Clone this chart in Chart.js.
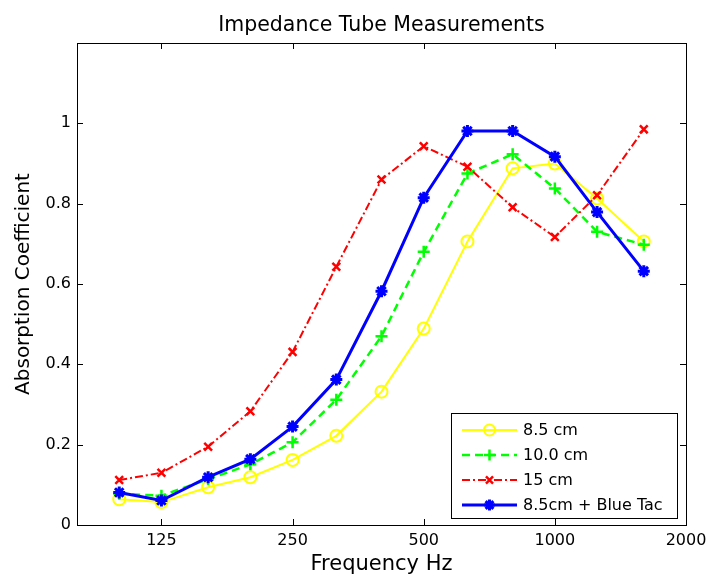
<!DOCTYPE html>
<html>
<head>
<meta charset="utf-8">
<title>Impedance Tube Measurements</title>
<script src="https://cdn.jsdelivr.net/npm/chart.js@4.4.1/dist/chart.umd.min.js"></script>
<style>
    body { margin: 0; background: #ffffff; }
    #contenedor { width: 707px; height: 576px; }
</style>
</head>
<body>
<div id="contenedor"><canvas id="grafica" width="707" height="576"></canvas></div>
<script>
// 1/3 octave band centres (Hz)
const frequencies = [100, 125, 160, 200, 250, 315, 400, 500, 630, 800, 1000, 1250, 1600];

// absorption coefficient per sample
const tube85    = [0.064, 0.057, 0.094, 0.119, 0.162, 0.222, 0.332, 0.489, 0.706, 0.888, 0.900, 0.813, 0.706];
const tube100   = [0.078, 0.073, 0.114, 0.151, 0.206, 0.312, 0.470, 0.680, 0.875, 0.923, 0.838, 0.730, 0.698];
const tube15    = [0.112, 0.130, 0.195, 0.283, 0.431, 0.643, 0.860, 0.943, 0.892, 0.791, 0.717, 0.821, 0.985];
const tube85Tac = [0.081, 0.061, 0.119, 0.164, 0.245, 0.362, 0.582, 0.815, 0.981, 0.981, 0.917, 0.779, 0.632];

const chartTitle = 'Impedance Tube Measurements';
const seriesLabels = ['8.5 cm', '10.0 cm', '15 cm', '8.5cm + Blue Tac'];
const xTicks = [125, 250, 500, 1000, 2000];
const yTicks = [0, 0.2, 0.4, 0.6, 0.8, 1, 1.2];

const fuente = 'DejaVu Sans, Liberation Sans, Arial, sans-serif';

function puntos(valores) {
    return frequencies.map((f, i) => ({ x: f, y: valores[i] }));
}

// title centred over the axes, like MATLAB does
const titulo = {
    id: 'titulo',
    afterDraw(chart) {
        const ctx = chart.ctx;
        const a = chart.chartArea;
        ctx.save();
        ctx.fillStyle = '#000000';
        ctx.font = '20.5px ' + fuente;
        ctx.textAlign = 'center';
        ctx.textBaseline = 'alphabetic';
        ctx.fillText(chartTitle, (a.left + a.right) / 2, 31);
        ctx.restore();
    }
};

// box around the plot with inward ticks on all four sides
const cajaEjes = {
    id: 'cajaEjes',
    afterDatasetsDraw(chart) {
        const ctx = chart.ctx;
        const a = chart.chartArea;
        const xs = chart.scales.x;
        const ys = chart.scales.y;
        const largo = 6;
        ctx.save();
        ctx.strokeStyle = '#000000';
        ctx.lineWidth = 1;
        ctx.beginPath();
        xTicks.forEach(v => {
            const px = Math.round(xs.getPixelForValue(v)) + 0.5;
            ctx.moveTo(px, a.bottom); ctx.lineTo(px, a.bottom - largo);
            ctx.moveTo(px, a.top); ctx.lineTo(px, a.top + largo);
        });
        yTicks.forEach(v => {
            const py = Math.round(ys.getPixelForValue(v)) + 0.5;
            ctx.moveTo(a.left, py); ctx.lineTo(a.left + largo, py);
            ctx.moveTo(a.right, py); ctx.lineTo(a.right - largo, py);
        });
        ctx.stroke();
        ctx.strokeRect(Math.round(a.left) + 0.5, Math.round(a.top) + 0.5,
                       Math.round(a.right - a.left), Math.round(a.bottom - a.top));
        ctx.restore();
    }
};

// MATLAB style legend: line sample with the marker in its middle
const leyenda = {
    id: 'leyenda',
    afterDraw(chart) {
        const ctx = chart.ctx;
        const a = chart.chartArea;
        const ancho = 226, alto = 105;
        const x0 = a.right - 9 - ancho;
        const y0 = a.bottom - 7 - alto;
        ctx.save();
        ctx.fillStyle = '#ffffff';
        ctx.fillRect(x0, y0, ancho, alto);
        ctx.strokeStyle = '#000000';
        ctx.lineWidth = 1;
        ctx.strokeRect(Math.round(x0) + 0.5, Math.round(y0) + 0.5, ancho, alto);
        chart.data.datasets.forEach((ds, i) => {
            const y = y0 + 17 + i * 25;
            const xa = x0 + 11, xb = x0 + 66;
            ctx.strokeStyle = ds.borderColor;
            ctx.lineWidth = ds.borderWidth;
            ctx.setLineDash(ds.borderDash || []);
            ctx.beginPath();
            ctx.moveTo(xa, y); ctx.lineTo(xb, y);
            ctx.stroke();
            ctx.setLineDash([]);
            ctx.lineWidth = ds.pointBorderWidth;
            ctx.fillStyle = ds.pointBackgroundColor;
            Chart.helpers.drawPoint(ctx, {
                pointStyle: ds.pointStyle,
                radius: ds.pointRadius - 0.5,
                rotation: 0,
                borderWidth: ds.pointBorderWidth
            }, (xa + xb) / 2, y);
            ctx.fillStyle = '#000000';
            ctx.font = '16px ' + fuente;
            ctx.textBaseline = 'middle';
            ctx.textAlign = 'left';
            ctx.fillText(ds.label, x0 + 72, y + 1);
        });
        ctx.restore();
    }
};

const ctx = document.getElementById('grafica').getContext('2d');
new Chart(ctx, {
    type: 'line',
    data: {
        datasets: [
            {
                label: seriesLabels[0],
                data: puntos(tube85),
                borderColor: '#ffff00',
                borderWidth: 2,
                pointStyle: 'circle',
                pointRadius: 6,
                pointBorderWidth: 2,
                pointBorderColor: '#ffff00',
                pointBackgroundColor: 'rgba(0,0,0,0)',
                order: 3
            },
            {
                label: seriesLabels[1],
                data: puntos(tube100),
                borderColor: '#00ff00',
                borderWidth: 2.5,
                borderDash: [8, 5],
                pointStyle: 'cross',
                pointRadius: 6,
                pointBorderWidth: 2.5,
                pointBorderColor: '#00ff00',
                pointBackgroundColor: '#00ff00',
                order: 2
            },
            {
                label: seriesLabels[2],
                data: puntos(tube15),
                borderColor: '#ff0000',
                borderWidth: 2,
                borderDash: [8, 3, 2, 3],
                pointStyle: 'crossRot',
                pointRadius: 5.5,
                pointBorderWidth: 2.5,
                pointBorderColor: '#ff0000',
                pointBackgroundColor: '#ff0000',
                order: 1
            },
            {
                label: seriesLabels[3],
                data: puntos(tube85Tac),
                borderColor: '#0000ff',
                borderWidth: 3,
                pointStyle: 'star',
                pointRadius: 6,
                pointBorderWidth: 3,
                pointBorderColor: '#0000ff',
                pointBackgroundColor: '#0000ff',
                order: 0
            }
        ]
    },
    options: {
        responsive: false,
        animation: false,
        events: [],
        layout: { padding: { left: 0, right: 21, top: 43, bottom: 0 } },
        scales: {
            x: {
                type: 'logarithmic',
                min: 80,
                max: 2000,
                grid: { display: false, drawTicks: false },
                border: { display: false },
                afterBuildTicks: function (scale) {
                    scale.ticks = xTicks.map(v => ({ value: v }));
                },
                afterFit: function (scale) {
                    scale.height = 51;
                    scale.paddingLeft = 0;
                    scale.paddingRight = 0;
                },
                ticks: {
                    color: '#000000',
                    font: { family: fuente, size: 16 },
                    padding: 6,
                    maxRotation: 0,
                    autoSkip: false,
                    callback: v => String(v)
                },
                title: {
                    display: true,
                    text: 'Frequency Hz',
                    color: '#000000',
                    font: { family: fuente, size: 21, lineHeight: 1.1 },
                    padding: { top: 0, bottom: 0 }
                }
            },
            y: {
                min: 0,
                max: 1.2,
                grid: { display: false, drawTicks: false },
                border: { display: false },
                afterBuildTicks: function (scale) {
                    scale.ticks = yTicks.map(v => ({ value: v }));
                },
                afterFit: function (scale) {
                    scale.width = 77;
                    scale.paddingTop = 0;
                    scale.paddingBottom = 0;
                },
                ticks: {
                    color: '#000000',
                    font: { family: fuente, size: 16 },
                    padding: 6,
                    callback: v => (v > 1.1 ? '' : String(Math.round(v * 10) / 10))
                },
                title: {
                    display: true,
                    text: 'Absorption Coefficient',
                    color: '#000000',
                    font: { family: fuente, size: 20, lineHeight: 1.2 },
                    padding: { top: 12, bottom: 0 }
                }
            }
        },
        plugins: {
            legend: { display: false },
            tooltip: { enabled: false },
            title: { display: false }
        }
    },
    plugins: [cajaEjes, leyenda, titulo]
});
</script>
</body>
</html>
